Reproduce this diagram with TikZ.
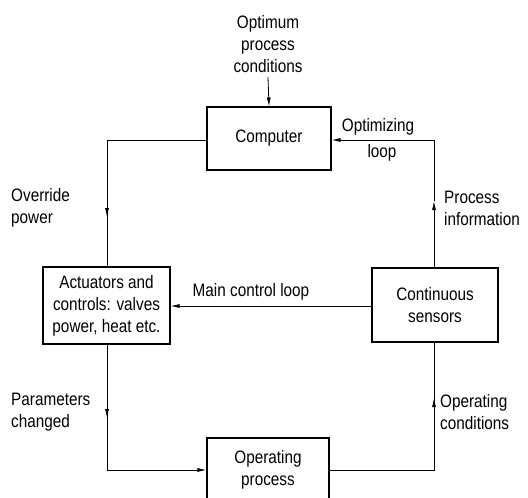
\documentclass[tikz,border=0pt]{standalone}
\usepackage{fontspec}
\setmainfont{Liberation Sans}[FakeStretch=0.85]
\usetikzlibrary{arrows.meta}
\begin{document}
\begin{tikzpicture}[x=1bp,y=-1bp,
  every node/.style={font=\fontsize{18bp}{22bp}\selectfont, inner sep=0pt},
  blk/.style={draw, line width=1.1bp, align=center},
  conn/.style={line width=0.8bp},
  tip/.style={conn, -{Latex[length=9bp,width=4bp]}},
  lbl/.style={align=left, anchor=west}]
\useasboundingbox (0,0) rectangle (528,498);
% boxes
\node[blk, minimum width=124bp, minimum height=63bp] (comp) at (269,138.5) {Computer};
\node[blk, minimum width=127bp, minimum height=77bp] (act) at (106.5,305.5) {Actuators and\\controls: valves\\power, heat etc.};
\node[blk, minimum width=126bp, minimum height=74bp] (sens) at (435,305) {Continuous\\sensors};
\node[blk, minimum width=122bp, minimum height=64bp] (op) at (268,470) {Operating\\process};
% labels
\node[align=center] (opt) at (268,44) {Optimum\\process\\conditions};
\node[lbl] (ovr) at (11,208) {Override\\power};
\node[lbl] (par) at (11,412) {Parameters\\changed};
\node[lbl] (pinf) at (444,208) {Process\\information};
\node[lbl] (ocon) at (440,412) {Operating\\conditions};
\node (optl) at (378,127) {Optimizing};
\node (loopl) at (382,153) {loop};
\node (mcl) at (251,292) {Main control loop};
% coordinates
\coordinate (optin) at (268,77);
\coordinate (lt) at (107,140);
\coordinate (la) at (107,217);
\coordinate (lb) at (107,470);
\coordinate (lba) at (107,418);
\coordinate (rt) at (434,140);
\coordinate (ra) at (434,201);
\coordinate (rb) at (434,470);
\coordinate (rba) at (434,398);
% connectors
\draw[tip] (optin) -- (comp.north);
\draw[conn] (comp.west |- lt) -- (lt) -- (la);
\draw[tip] (lt) -- (la);
\draw[conn] (la) -- (act.north -| la);
\draw[conn] (act.south -| lb) -- (lba);
\draw[tip] (act.south -| lb) -- (lba);
\draw[tip] (lba) -- (lb) -- (op.west |- lb);
\draw[conn] (op.east |- rb) -- (rb) -- (rba);
\draw[tip] (rb) -- (rba);
\draw[conn] (rba) -- (sens.south -| rba);
\draw[tip] (sens.north -| ra) -- (ra);
\draw[tip] (ra) -- (rt) -- (comp.east |- rt);
\draw[tip] (sens.west |- 0,306) -- (act.east |- 0,306);
\end{tikzpicture}
\end{document}
